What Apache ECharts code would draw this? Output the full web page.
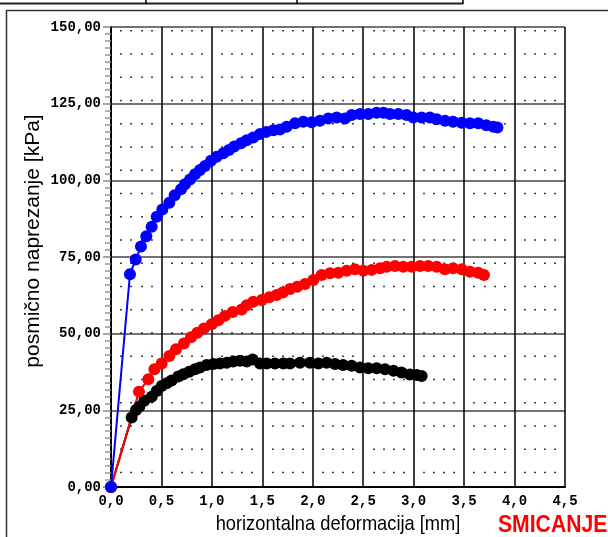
<!DOCTYPE html>
<html>
<head>
<meta charset="utf-8">
<script src="https://cdn.jsdelivr.net/npm/echarts@6/dist/echarts.min.js"></script>
<style>
html,body{margin:0;padding:0;background:#fff;}
#chart{width:608px;height:537px;}
</style>
</head>
<body>
<div id="chart"></div>
<script>
// ---- data ----
const xTicks = [0, 0.5, 1, 1.5, 2, 2.5, 3, 3.5, 4, 4.5];
const yTicks = [0, 25, 50, 75, 100, 125, 150];

const blueDef = [0, 0.188, 0.245, 0.297, 0.350, 0.403, 0.453, 0.509, 0.578, 0.631, 0.694, 0.733, 0.783, 0.833, 0.882, 0.932, 0.991, 1.047, 1.113, 1.169, 1.222, 1.288, 1.345, 1.410, 1.477, 1.54, 1.61, 1.675, 1.741, 1.824, 1.906, 1.989, 2.071, 2.154, 2.237, 2.319, 2.385, 2.468, 2.55, 2.633, 2.70, 2.765, 2.848, 2.93, 2.996, 3.079, 3.16, 3.228, 3.31, 3.39, 3.476, 3.558, 3.64, 3.72, 3.79, 3.83];
const blueStress = [0, 69.4, 74.2, 78.4, 81.8, 84.9, 88.1, 90.5, 92.7, 95.1, 97.1, 98.7, 100.3, 102.0, 103.4, 104.7, 106.4, 107.7, 108.8, 109.9, 111.0, 112.1, 113.1, 114.0, 115.1, 115.8, 116.3, 116.6, 117.5, 118.6, 119.1, 118.9, 119.4, 120.2, 120.5, 120.2, 121.3, 121.6, 121.6, 122.0, 122.0, 121.6, 121.6, 121.3, 120.5, 120.5, 120.5, 119.9, 119.4, 119.1, 118.8, 118.6, 118.6, 118.0, 117.5, 117.2];

const redDef = [0, 0.277, 0.370, 0.430, 0.502, 0.578, 0.644, 0.723, 0.793, 0.856, 0.922, 0.998, 1.064, 1.130, 1.206, 1.295, 1.345, 1.41, 1.494, 1.569, 1.642, 1.702, 1.774, 1.846, 1.923, 2.005, 2.088, 2.17, 2.253, 2.336, 2.418, 2.50, 2.584, 2.666, 2.732, 2.815, 2.897, 2.98, 3.062, 3.145, 3.228, 3.31, 3.39, 3.476, 3.558, 3.64, 3.697];
const redStress = [0, 31.1, 35.1, 38.4, 40.3, 42.7, 44.9, 46.8, 48.8, 50.3, 51.7, 53.1, 54.4, 55.8, 57.1, 57.9, 59.3, 60.4, 61.0, 61.9, 62.6, 63.4, 64.6, 65.3, 66.2, 67.5, 69.1, 69.7, 69.9, 70.5, 71.0, 70.5, 70.8, 71.3, 71.8, 72.1, 71.8, 71.8, 72.1, 72.1, 71.8, 71.0, 71.3, 71.0, 70.2, 69.9, 69.1];

const blackDef = [0, 0.205, 0.248, 0.281, 0.330, 0.403, 0.453, 0.502, 0.552, 0.601, 0.667, 0.717, 0.776, 0.832, 0.882, 0.948, 1.014, 1.08, 1.147, 1.212, 1.278, 1.345, 1.404, 1.477, 1.543, 1.625, 1.708, 1.774, 1.873, 1.972, 2.055, 2.138, 2.22, 2.30, 2.385, 2.468, 2.55, 2.633, 2.716, 2.80, 2.88, 2.963, 3.03, 3.079];
const blackStress = [0, 22.7, 25.1, 26.2, 28.1, 29.4, 31.3, 32.9, 33.8, 34.7, 36.0, 36.8, 37.6, 38.4, 39.0, 39.8, 40.1, 40.3, 40.5, 40.9, 41.2, 40.9, 41.6, 40.3, 40.3, 40.3, 40.3, 40.3, 40.5, 40.5, 40.3, 40.5, 40.1, 39.8, 39.5, 39.0, 38.7, 38.7, 38.4, 37.9, 37.3, 36.7, 36.5, 36.2];

const xName = 'horizontalna deformacija [mm]';
const yName = 'posmično naprezanje [kPa]';
const stamp = 'SMICANJE';

function pairs(xs, ys) { return xs.map((x, i) => [x, ys[i]]); }

const chart = echarts.init(document.getElementById('chart'), null, {renderer: 'canvas'});
const mono = '"Liberation Mono", "Courier New", monospace';
const sans = '"Liberation Sans", Arial, sans-serif';

function mkSeries(name, xs, ys, color) {
  return {
    name: name,
    type: 'line',
    data: pairs(xs, ys),
    symbol: 'circle',
    symbolSize: 12,
    showSymbol: true,
    animation: false,
    lineStyle: {color: color, width: 2},
    itemStyle: {color: color},
    z: 3
  };
}

chart.setOption({
  animation: false,
  backgroundColor: '#fff',
  grid: {left: 111, right: 43, top: 27, bottom: 50, containLabel: false},
  xAxis: {
    type: 'value',
    min: xTicks[0], max: xTicks[xTicks.length - 1], interval: 0.5,
    axisLine: {show: true, lineStyle: {color: '#000', width: 2}},
    axisTick: {show: false},
    axisLabel: {
      margin: 7,
      fontFamily: mono, fontWeight: 'bold', fontSize: 14, color: '#000',
      formatter: v => v.toFixed(1).replace('.', ',')
    },
    splitLine: {show: true, lineStyle: {color: '#000', width: 1.5}},
    minorTick: {show: false, splitNumber: 5},
    minorSplitLine: {show: true, lineStyle: {color: '#000', width: 1.5, type: [1.5, 21.75], dashOffset: 20.25}}
  },
  yAxis: {
    type: 'value',
    min: yTicks[0], max: yTicks[yTicks.length - 1], interval: 25,
    axisLine: {show: true, lineStyle: {color: '#000', width: 2}},
    axisTick: {show: true, length: 8, lineStyle: {color: '#888', width: 1.5}},
    minorTick: {show: true, splitNumber: 11, length: 6, lineStyle: {color: '#999', width: 1.5}},
    axisLabel: {
      margin: 10,
      fontFamily: mono, fontWeight: 'bold', fontSize: 14, color: '#000',
      formatter: v => v.toFixed(2).replace('.', ',')
    },
    splitLine: {show: true, lineStyle: {color: '#444', width: 1.5}}
  },
  graphic: [
    {type: 'line', shape: {x1: 0, y1: 3.5, x2: 463, y2: 3.5}, style: {stroke: '#222', lineWidth: 2}},
    {type: 'line', shape: {x1: 146, y1: 0, x2: 146, y2: 4}, style: {stroke: '#000', lineWidth: 1.5}},
    {type: 'line', shape: {x1: 297, y1: 0, x2: 297, y2: 4}, style: {stroke: '#000', lineWidth: 1.5}},
    {type: 'line', shape: {x1: 463, y1: 0, x2: 463, y2: 4}, style: {stroke: '#000', lineWidth: 1.5}},
    {type: 'polyline', shape: {points: [[6.5, 537], [6.5, 10.5], [608, 10.5]]}, style: {stroke: '#333', lineWidth: 1.5, fill: null}},
    {type: 'text', x: 33, y: 241, rotation: Math.PI / 2,
      style: {text: yName, fontFamily: sans, fontSize: 21, fill: '#000', align: 'center', verticalAlign: 'middle'}},
    {type: 'text', x: 338, y: 524, scaleX: 0.87,
      style: {text: xName, fontFamily: sans, fontSize: 21, fill: '#000', align: 'center', verticalAlign: 'middle'}},
    {type: 'text', x: 498, y: 526, scaleX: 0.92,
      style: {text: stamp, fontFamily: sans, fontWeight: 'bold', fontSize: 23, fill: '#ff0000', align: 'left', verticalAlign: 'middle'}}
  ],
  series: [
    mkSeries('black', blackDef, blackStress, '#000000'),
    mkSeries('red', redDef, redStress, '#ff0000'),
    mkSeries('blue', blueDef, blueStress, '#0000ff')
  ]
});
</script>
</body>
</html>
